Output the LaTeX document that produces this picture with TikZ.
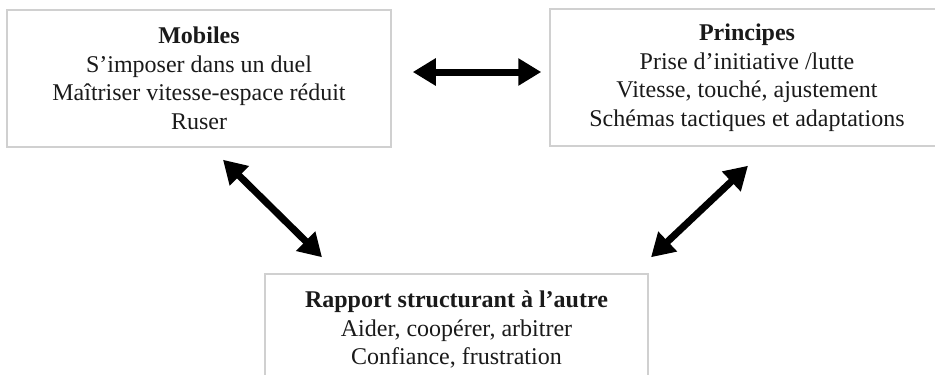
\documentclass[tikz,border=0pt]{standalone}
\usepackage{fontspec}
\setmainfont{Liberation Serif}
\usetikzlibrary{arrows.meta}
\definecolor{boxgray}{HTML}{D0D0D0}
\definecolor{inkc}{HTML}{1A1A1A}
\tikzset{
  box/.style={draw=boxgray, line width=1.5pt, rectangle, align=center, inner sep=0pt,
    text=inkc, font=\fontsize{24}{28.5}\selectfont},
  biarrow/.style={line width=7pt, draw=black,
    {Triangle[width=26pt,length=23pt]}-{Triangle[width=26pt,length=23pt]}}
}
\begin{document}
\begin{tikzpicture}[x=1pt,y=-1pt]
\clip (0,0) rectangle (935,375);
\fill[white] (0,0) rectangle (935,375);
\node[box, minimum width=384pt, minimum height=137pt] (mob) at (199,78.5)
  {\textbf{Mobiles}\\S’imposer dans un duel\\Maîtriser vitesse-espace réduit\\Ruser};
\node[box, minimum width=394pt, minimum height=137pt] (pri) at (747,77.5)
  {\textbf{Principes}\\Prise d’initiative /lutte\\Vitesse, touché, ajustement\\Schémas tactiques et adaptations};
\node[box, minimum width=383pt, minimum height=112pt] (rap) at (456.5,330)
  {\textbf{Rapport structurant à l’autre}\\Aider, coopérer, arbitrer\\Confiance, frustration};
\draw[biarrow] ([shift={(21,-6.5)}]mob.east) -- ([shift={(-8,-5.5)}]pri.west);
\draw[biarrow] ([shift={(24,12)}]mob.south) -- ([shift={(-134.5,-16)}]rap.north);
\draw[biarrow] ([shift={(1,19)}]pri.south) -- ([shift={(194.5,-16)}]rap.north);
\end{tikzpicture}
\end{document}
